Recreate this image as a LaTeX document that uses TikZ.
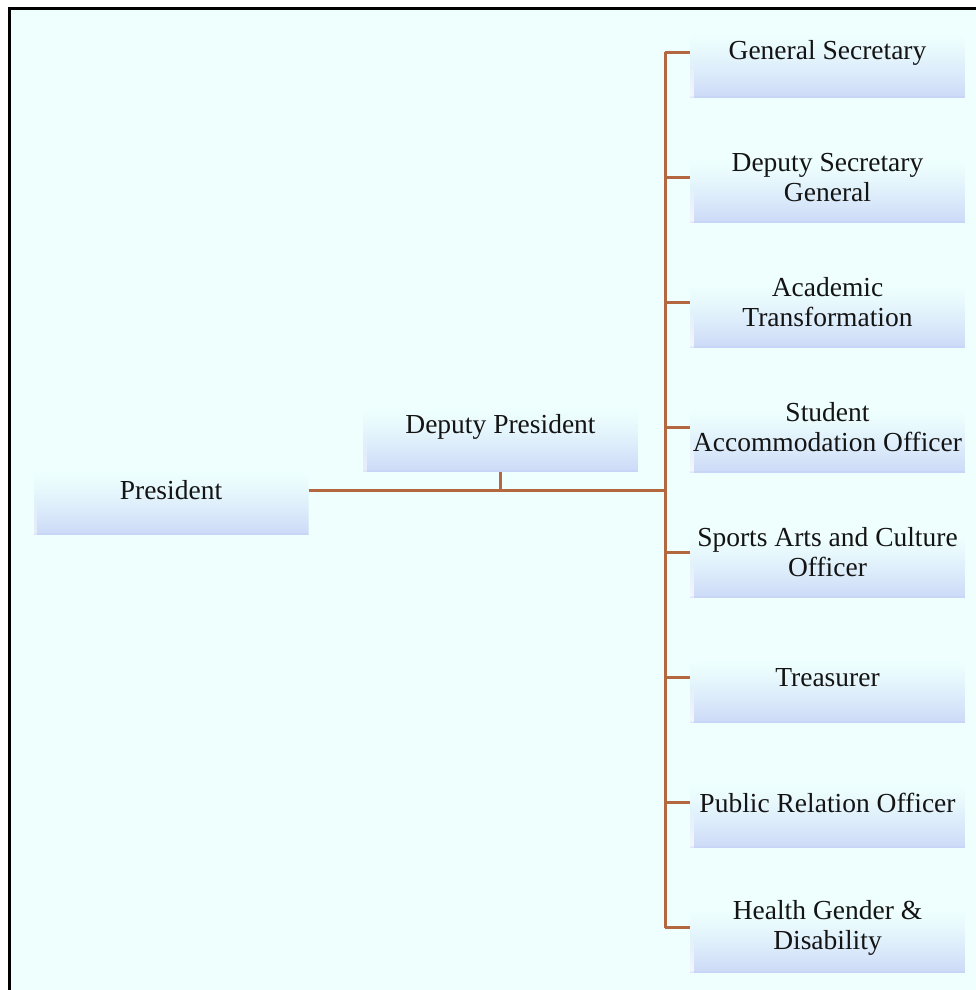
\documentclass[tikz,border=0pt]{standalone}
\usepackage{fontspec}
\setmainfont{Liberation Serif}
\begin{document}
\definecolor{pagebg}{HTML}{EEFFFE}
\definecolor{boxblue}{HTML}{CCDAF7}
\definecolor{linkbrown}{HTML}{B3683F}
\tikzset{
  x=1pt, y=-1pt,
  rolebox/.style={
    minimum width=275pt, minimum height=90pt, inner sep=0pt,
    align=center, font=\fontsize{27.5}{30}\selectfont, text=black!92,
    path picture={
      % lower band fading from box blue up into the page colour
      \foreach \i in {0,...,61}{
        \pgfmathsetmacro\p{100*((62-\i)/62)^1.25}
        \fill[boxblue!\p!pagebg]
          ([yshift=\i pt]path picture bounding box.south west) rectangle
          ([yshift=\i pt+1.1pt]path picture bounding box.south east);
      }
      % light edge on the left side
      \foreach \i in {0,...,36}{
        \pgfmathsetmacro\q{55*((36-\i)/36)}
        \fill[white, opacity=\q/100]
          ([yshift=\i pt]path picture bounding box.south west) rectangle
          ([xshift=3.5pt,yshift=\i pt+1.1pt]path picture bounding box.south west);
      }
      % faint darker base line
      \fill[boxblue!85!blue, opacity=0.15]
        (path picture bounding box.south west) rectangle
        ([yshift=2pt]path picture bounding box.south east);
    }},
  trunkline/.style={draw=linkbrown, line width=3pt},
  tickline/.style={draw=linkbrown, line width=2.2pt}
}
\begin{tikzpicture}
  % page area and frame
  \useasboundingbox (0,0) rectangle (976,990);
  \fill[white] (0,0) rectangle (976,990);
  \fill[pagebg] (9.5,8.5) rectangle (976,990);
  \draw[line width=3pt, black] (9.5,990) -- (9.5,8.5) -- (976,8.5);

  % role boxes
  \node[rolebox] (pres) at (171,490) {President};
  \node[rolebox] (dep)  at (500.5,427) {Deputy President};
  \node[rolebox] (gs)   at (827.5,52.5)  {General Secretary};
  \node[rolebox] (dsg)  at (827.5,177.5) {Deputy Secretary\\General};
  \node[rolebox] (at)   at (827.5,302.5) {Academic\\Transformation};
  \node[rolebox] (sao)  at (827.5,427.5) {Student\\Accommodation Officer};
  \node[rolebox] (sac)  at (827.5,552.5) {Sports Arts and Culture\\Officer};
  \node[rolebox] (tr)   at (827.5,677.5) {Treasurer};
  \node[rolebox] (pro)  at (827.5,802.5) {Public Relation Officer};
  \node[rolebox] (hgd)  at (827.5,927.5) {Health Gender \&\\Disability};

  % connectors
  \coordinate (jn) at (665,490);
  \draw[trunkline] (pres.east) -- (jn);
  \draw[tickline] (dep.south) -- (dep.south |- jn);
  \draw[trunkline] (gs.west -| jn) -- (hgd.west -| jn);
  \foreach \n in {gs,dsg,at,sao,sac,tr,pro,hgd}
    \draw[tickline] (\n.west -| jn) -- (\n.west);
\end{tikzpicture}
\end{document}
